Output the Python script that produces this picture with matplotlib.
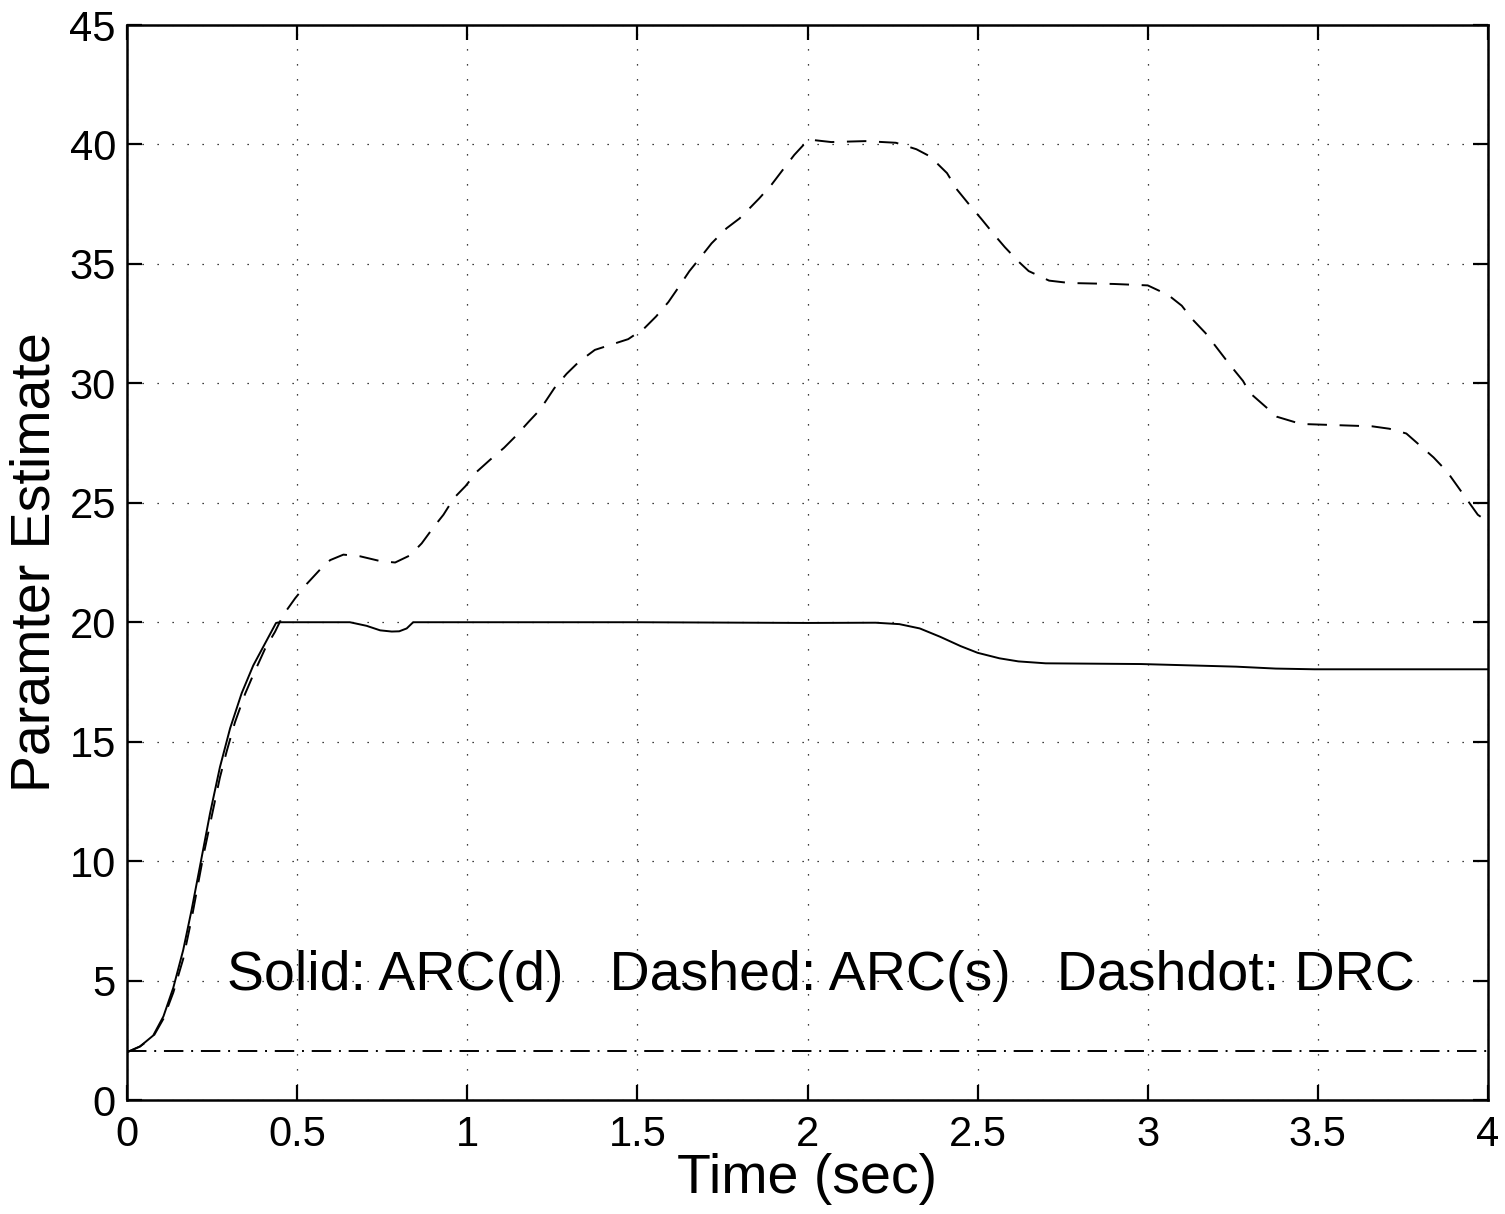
import matplotlib
matplotlib.use('Agg')
from matplotlib import pyplot as plt

plt.rcParams['font.family'] = ['Liberation Sans', 'DejaVu Sans']

# Solid: ARC(d)
t_solid = [0, 0.038, 0.077, 0.107, 0.136, 0.165, 0.19, 0.215, 0.244, 0.273,
           0.303, 0.337, 0.371, 0.406, 0.438, 0.45, 0.55, 0.655, 0.704, 0.744,
           0.778, 0.80, 0.822, 0.841, 0.9, 1.5, 2.0, 2.2, 2.27, 2.33,
           2.39, 2.45, 2.5, 2.564, 2.62, 2.70, 2.98, 3.26, 3.376, 3.49, 4.0]
v_solid = [2.0, 2.24, 2.7, 3.5, 4.7, 6.27, 7.97, 9.83, 12.0, 13.93,
           15.56, 17.03, 18.19, 19.12, 19.97, 20.0, 20.0, 20.0, 19.85, 19.66,
           19.61, 19.62, 19.74, 20.0, 20.0, 20.0, 19.97, 19.98, 19.92, 19.74,
           19.39, 19.0, 18.72, 18.49, 18.36, 18.28, 18.25, 18.14, 18.06, 18.03, 18.03]

# Dashed: ARC(s)
t_dashed = [0, 0.038, 0.077, 0.107, 0.136, 0.165, 0.19, 0.224, 0.273, 0.293,
            0.317, 0.347, 0.371, 0.406, 0.435, 0.459, 0.494, 0.528, 0.567, 0.597,
            0.636, 0.685, 0.744, 0.788, 0.832, 0.866, 0.900, 0.930, 0.961, 0.995,
            1.028, 1.067, 1.108, 1.143, 1.181, 1.214, 1.256, 1.292, 1.328, 1.375,
            1.473, 1.520, 1.555, 1.591, 1.620, 1.653, 1.687, 1.718, 1.762, 1.800,
            1.821, 1.858, 1.895, 1.927, 1.961, 1.996, 2.02, 2.07, 2.17, 2.26,
            2.32, 2.36, 2.41, 2.44, 2.48, 2.51, 2.55, 2.58, 2.62, 2.65,
            2.71, 2.77, 2.90, 3.0, 3.06, 3.10, 3.13, 3.17, 3.24, 3.28,
            3.30, 3.34, 3.38, 3.45, 3.66, 3.71, 3.76, 3.80, 3.84, 3.88,
            3.91, 3.94, 3.97, 4.0]
v_dashed = [2.0, 2.24, 2.65, 3.4, 4.5, 5.9, 7.6, 10.2, 13.5, 14.6,
            15.8, 17.0, 17.8, 18.9, 19.6, 20.3, 21.0, 21.6, 22.2, 22.6,
            22.83, 22.76, 22.56, 22.5, 22.8, 23.3, 23.96, 24.5, 25.2, 25.7,
            26.3, 26.8, 27.3, 27.8, 28.4, 28.9, 29.8, 30.4, 30.9, 31.4,
            31.85, 32.3, 32.8, 33.4, 34.0, 34.7, 35.3, 35.86, 36.49, 36.9,
            37.2, 37.74, 38.33, 38.93, 39.56, 40.1, 40.18, 40.1, 40.14, 40.07,
            39.8, 39.5, 38.8, 38.1, 37.4, 36.9, 36.2, 35.7, 35.1, 34.7,
            34.3, 34.2, 34.16, 34.1, 33.7, 33.25, 32.7, 32.1, 30.8, 30.1,
            29.6, 29.1, 28.6, 28.3, 28.2, 28.1, 27.9, 27.4, 26.9, 26.3,
            25.7, 25.1, 24.5, 24.2]

# Dashdot: DRC
t_dashdot = [0, 4]
v_dashdot = [2.05, 2.05]

x_ticks = [0, 0.5, 1, 1.5, 2, 2.5, 3, 3.5, 4]
x_labels = ['0', '0.5', '1', '1.5', '2', '2.5', '3', '3.5', '4']
y_ticks = [0, 5, 10, 15, 20, 25, 30, 35, 40, 45]

fig = plt.figure(figsize=(15.05, 12.14), dpi=100)
ax = fig.add_axes([0.0844, 0.0939, 0.9043, 0.8855])

ax.plot(t_solid, v_solid, color='k', lw=1.4)
ax.plot(t_dashed, v_dashed, color='k', lw=1.4, linestyle=(0, (10, 6.5)))
ax.plot(t_dashdot, v_dashdot, color='k', lw=1.4, linestyle=(0, (10, 4, 1, 4)))

ax.set_xlim(0, 4)
ax.set_ylim(0, 45)
ax.set_xticks(x_ticks)
ax.set_xticklabels(x_labels)
ax.set_yticks(y_ticks)
ax.tick_params(direction='in', length=11, width=1.6, labelsize=30,
               top=True, right=True)
ax.tick_params(axis='x', pad=11)
ax.tick_params(axis='y', pad=8)
for s in ax.spines.values():
    s.set_linewidth(1.8)

ax.grid(True, color='k', lw=0.9, linestyle=(0, (1, 11)))

ax.set_xlabel('Time (sec)', fontsize=40, labelpad=-2)
ax.set_ylabel('Paramter Estimate', fontsize=40, labelpad=6)

ax.text(0.295, 4.6, 'Solid: ARC(d)   Dashed: ARC(s)   Dashdot: DRC',
        fontsize=40, va='baseline', ha='left')

plt.savefig('out.png', format='png')
plt.close()
